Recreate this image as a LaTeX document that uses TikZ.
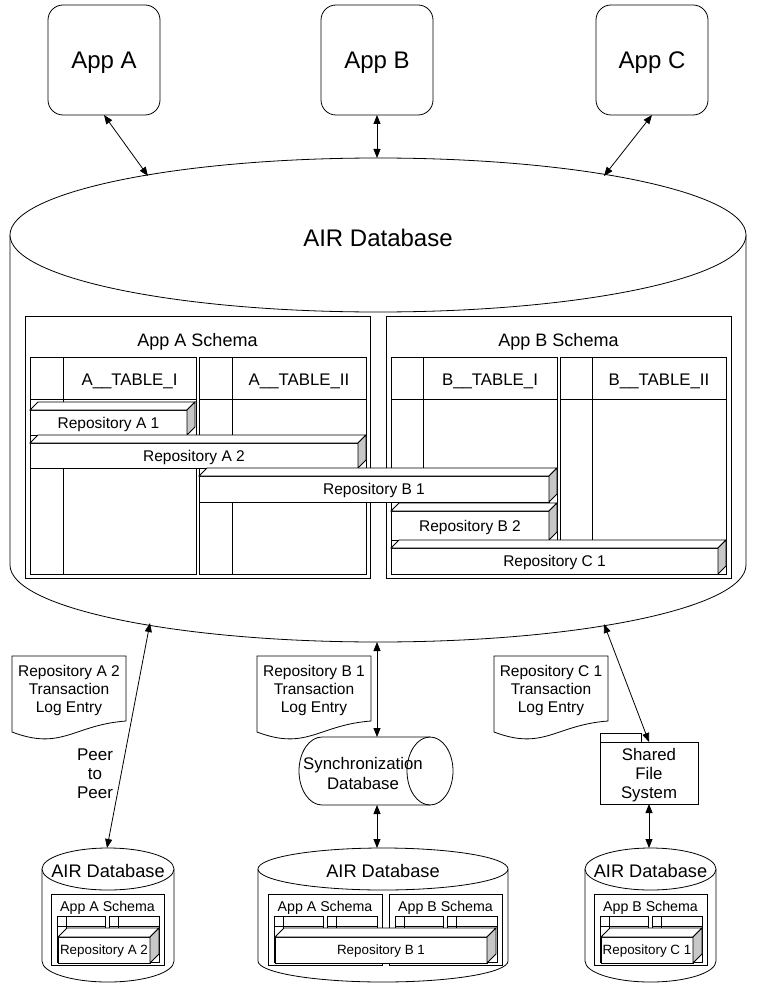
\documentclass[tikz,border=0pt]{standalone}
\usepackage{fontspec}
\setmainfont{Liberation Sans}
\usetikzlibrary{arrows.meta,calc}

\newcommand\fsz[2]{\fontsize{#1}{#2}\selectfont}

% table: name x1 y1 x2 y2 headerheight colwidth title
\newcommand\dbtable[8]{%
  \node[draw, fill=white, anchor=north west, minimum width={#4-#2}, minimum height={#5-#3}] (#1) at (#2,#3) {};
  \draw ($(#1.north west)+(0,#6)$) -- ($(#1.north east)+(0,#6)$);
  \draw ($(#1.north west)+(#7,0)$) -- ($(#1.south west)+(#7,0)$);
  \node[yshift=-3pt] (#1t) at ($(#1.north west)!0.5!(#1.north east)+(#7/2,#6/2)$) {#8};
}

% repository cube: name x1 y1 x2 y2 depth text font capheight
\newcommand\repo[9]{%
  \node[draw, fill=white, anchor=north west, minimum width={#4-#2-#6}, minimum height={#5-#3-#6}, font=#8, text height=#9, text depth=0pt] (#1) at (#2,#3+#6) {#7};
  \draw[fill=white] (#1.north west) -- ++(#6,-#6) -- ($(#1.north east)+(#6,-#6)$) -- (#1.north east) -- cycle;
  \draw[fill=black!22] (#1.north east) -- ++(#6,-#6) -- ($(#1.south east)+(#6,-#6)$) -- (#1.south east) -- cycle;
}

% document shape: name x y text
\newcommand\docshape[4]{%
  \draw[fill=white] (#2,#3) -- ++(114,0) -- ++(0,65) .. controls ($(#2,#3)+(61,69)$) and ($(#2,#3)+(50,95)$) .. ($(#2,#3)+(0,76)$) -- cycle;
  \node[align=center, font=\fsz{15.5}{18}] (#1) at ($(#2,#3)+(57,34.5)$) {#4};
}

% small database cylinder: name L R
\newcommand\smalldb[3]{%
  \pgfmathsetmacro\sdc{(#2+#3)/2}%
  \pgfmathsetmacro\sdr{(#3-#2)/2}%
  \pgfmathsetmacro\sdk{0.5523*\sdr}%
  \draw[fill=white] (#2,869) -- (#2,961) .. controls (#2,972.6) and (\sdc-\sdk,982) .. (\sdc,982) .. controls (\sdc+\sdk,982) and (#3,972.6) .. (#3,961) -- (#3,869);
  \draw[fill=white] (\sdc,869) ellipse [x radius=\sdr, y radius=21];
  \node[font=\fsz{18.2}{20}] (#1) at (\sdc,871) {AIR Database};
}

\begin{document}
\begin{tikzpicture}[x=1pt,y=-1pt,line width=0.8pt,
  every node/.style={inner sep=0pt,outer sep=0pt},
  app/.style={draw, rounded corners=15pt, minimum width=112pt, minimum height=110pt, font=\fsz{24}{28}, text height=17.2pt, text depth=0pt},
  biarrow/.style={{Triangle[length=9pt,width=7pt]}-{Triangle[length=9pt,width=7pt]}, line width=0.8pt},
  schemabox/.style={draw, fill=white, anchor=north west}]
\useasboundingbox (0,0) rectangle (757,987);

% applications
\node[app] (appA) at (104,60) {App A};
\node[app] (appB) at (377,60) {App B};
\node[app] (appC) at (652,60) {App C};

% big database cylinder
\draw[fill=white] (10,235) -- (10,565) .. controls (10,607.5) and (174.8,642) .. (378,642) .. controls (581.2,642) and (746,607.5) .. (746,565) -- (746,235);
\draw[fill=white] (378,235) ellipse [x radius=368, y radius=77];
\node[font=\fsz{24}{28}] (bigdb) at (378,237.5) {AIR Database};

\coordinate (cA) at (148,176);
\coordinate (cB) at (377,158);
\coordinate (cC) at (604,176);
\coordinate (cbA) at (150,623);
\coordinate (cbB) at (377,642);
\coordinate (cbC) at (604,624);

% schemas
\node[schemabox, minimum width=345, minimum height=262] (schA) at (25,316) {};
\node[font=\fsz{18}{20}] (schAt) at (197.5,342) {App A Schema};
\node[schemabox, minimum width=345, minimum height=262] (schB) at (386,316) {};
\node[font=\fsz{18}{20}] (schBt) at (558.5,342) {App B Schema};

\dbtable{tA1}{30}{357}{196}{574}{42}{33}{\fsz{16.8}{18}A\_\_TABLE\_I}
\dbtable{tA2}{199}{357}{366}{574}{42}{33}{\fsz{16.8}{18}A\_\_TABLE\_II}
\dbtable{tB1}{391}{357}{557}{574}{42}{32}{\fsz{16.8}{18}B\_\_TABLE\_I}
\dbtable{tB2}{560}{357}{726}{574}{42}{32}{\fsz{16.8}{18}B\_\_TABLE\_II}

\repo{rA1}{30}{402}{195}{435}{8}{Repository A 1}{\fsz{15.5}{18}}{11.1pt}
\repo{rA2}{30}{435}{366}{468}{8}{Repository A 2}{\fsz{15.5}{18}}{11.1pt}
\repo{rB1}{199}{468}{557}{502}{8}{Repository B 1}{\fsz{15.5}{18}}{11.1pt}
\repo{rB2}{391}{503}{557}{540}{8}{Repository B 2}{\fsz{15.5}{18}}{11.1pt}
\repo{rC1}{391}{540}{726}{574}{8}{Repository C 1}{\fsz{15.5}{18}}{11.1pt}

% transaction log documents
\docshape{docA}{12}{656}{Repository A 2\\Transaction\\Log Entry}
\docshape{docB}{257}{656}{Repository B 1\\Transaction\\Log Entry}
\docshape{docC}{494}{656}{Repository C 1\\Transaction\\Log Entry}

\node[align=center, font=\fsz{17}{19}] (peer) at (95,774) {Peer\\to\\Peer};

% synchronization database (horizontal cylinder)
\fill[white] (322,737) -- (430,737) -- (430,805) -- (322,805) .. controls (309.3,805) and (299,789.8) .. (299,771) .. controls (299,752.2) and (309.3,737) .. (322,737) -- cycle;
\draw (430,737) -- (322,737) .. controls (309.3,737) and (299,752.2) .. (299,771) .. controls (299,789.8) and (309.3,805) .. (322,805) -- (430,805);
\draw (430,771) ellipse [x radius=23, y radius=34];
\node[align=center, font=\fsz{16.8}{20}] (sync) at (363,773) {Synchronization\\Database};
\coordinate (synctop) at (377,737);
\coordinate (syncbot) at (377,805);

% shared file system (folder)
\draw[fill=white] (600,733) rectangle (641,742);
\node[schemabox, minimum width=98, minimum height=62] (fs) at (600,742) {};
\node[align=center, font=\fsz{16.8}{19}] (fst) at (649,775) {Shared\\File\\System};

% small databases
\smalldb{ldb}{42}{174}
\smalldb{mdb}{258}{508}
\smalldb{rdb}{585}{716}

\coordinate (ldbtop) at (107,848);
\coordinate (mdbtop) at (377,848);
\coordinate (rdbtop) at (649,848);

% left small db content
\node[schemabox, minimum width=113, minimum height=71] (lsch) at (51,894) {};
\node[font=\fsz{14.2}{16}] (lscht) at (107.5,908) {App A Schema};
\dbtable{lt1}{57}{916}{105.5}{962}{10}{9}{}
\dbtable{lt2}{109.5}{916}{159}{962}{10}{9}{}
\repo{lr}{58}{928}{159}{963}{9}{Repository A 2}{\fsz{13.4}{15}}{9.6pt}

% middle small db content
\node[schemabox, minimum width=114, minimum height=71] (msA) at (268,894) {};
\node[font=\fsz{14.2}{16}] (msAt) at (325,908) {App A Schema};
\node[schemabox, minimum width=113, minimum height=71] (msB) at (389,894) {};
\node[font=\fsz{14.2}{16}] (msBt) at (445.5,908) {App B Schema};
\dbtable{mt1}{274}{916}{323}{962}{10}{9}{}
\dbtable{mt2}{327}{916}{377}{962}{10}{9}{}
\dbtable{mt3}{395}{916}{443.5}{962}{10}{9}{}
\dbtable{mt4}{447.5}{916}{497}{962}{10}{9}{}
\repo{mr}{275}{928}{496}{963}{9}{Repository B 1}{\fsz{13.4}{15}}{9.6pt}

% right small db content
\node[schemabox, minimum width=113, minimum height=71] (rsch) at (594,894) {};
\node[font=\fsz{14.2}{16}] (rscht) at (650.5,908) {App B Schema};
\dbtable{rt1}{600}{916}{648.5}{962}{10}{9}{}
\dbtable{rt2}{652.5}{916}{702}{962}{10}{9}{}
\repo{rr}{601}{928}{702}{963}{9}{Repository C 1}{\fsz{13.4}{15}}{9.6pt}

% connectors
\draw[biarrow] (appA.south) -- (cA);
\draw[biarrow] (appB.south) -- (cB);
\draw[biarrow] (appC.south) -- (cC);
\draw[biarrow] (cbA) -- (ldbtop);
\draw[biarrow] (cbB) -- (synctop);
\draw[biarrow] (syncbot) -- (mdbtop);
\draw[biarrow] (cbC) -- (fs.north);
\draw[biarrow] (fs.south) -- (rdbtop);
\end{tikzpicture}
\end{document}
